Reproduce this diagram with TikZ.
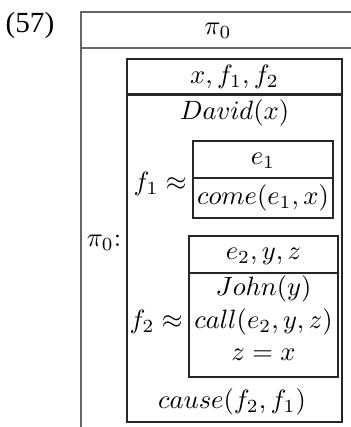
\documentclass[tikz,border=0pt]{standalone}
\usepackage[no-math]{fontspec}
\newfontfamily\exnumfont{Liberation Serif}
\usetikzlibrary{positioning}

\tikzset{
    % Line styles for the boxes
    outerline/.style={
        draw=black!60,
        line width=0.8pt
    },
    drsline/.style={
        draw=black!85,
        line width=0.8pt
    },
    % Text styles
    cond/.style={
        inner sep=0pt,
        align=center
    },
    exnum/.style={
        inner sep=0pt,
        font=\exnumfont\fontsize{11}{13}\selectfont
    }
}

\begin{document}
\begin{tikzpicture}[x=0.377pt, y=-0.377pt]
    \useasboundingbox (0,0) rectangle (351,427);
    \clip (0,0) rectangle (351,427);

    % Example number
    \node[exnum] (num) at (30,25) {(57)};

    % Outer box (runs off the page)
    \draw[outerline] (365,12) -- (81,12) -- (81,440);
    \draw[outerline] (81,48) -- (365,48);
    \node[cond] (pi) at (218,31) {$\pi_0$};
    \node[cond] (pilabel) at (104,243) {$\pi_0{:}$};

    % Main DRS
    \draw[drsline] (127,59) rectangle (342,422);
    \draw[drsline] (127,94.5) -- (342,94.5);
    \node[cond] (univ) at (234.5,77) {$x, f_1, f_2$};
    \node[cond] (david) at (234.5,113) {$David(x)$};

    % f1 box
    \draw[drsline] (193,141) rectangle (333,218);
    \draw[drsline] (193,178) -- (333,178);
    \node[cond] (e1) at (263,161) {$e_1$};
    \node[cond] (come) at (263,198) {$come(e_1, x)$};
    \node[cond, anchor=east] (f1) at (187,184) {$f_1 \approx$};

    % f2 box
    \draw[drsline] (189,236) rectangle (338,377);
    \draw[drsline] (189,273) -- (338,273);
    \node[cond] (univ2) at (263.5,256) {$e_2, y, z$};
    \node[cond] (john) at (263.5,289) {$John(y)$};
    \node[cond] (call) at (263.5,322) {$call(e_2, y, z)$};
    \node[cond] (zx) at (263.5,355) {$z = x$};
    \node[cond, anchor=east] (f2) at (183,322) {$f_2 \approx$};

    \node[cond] (cause) at (232,402) {$cause(f_2, f_1)$};
\end{tikzpicture}
\end{document}
